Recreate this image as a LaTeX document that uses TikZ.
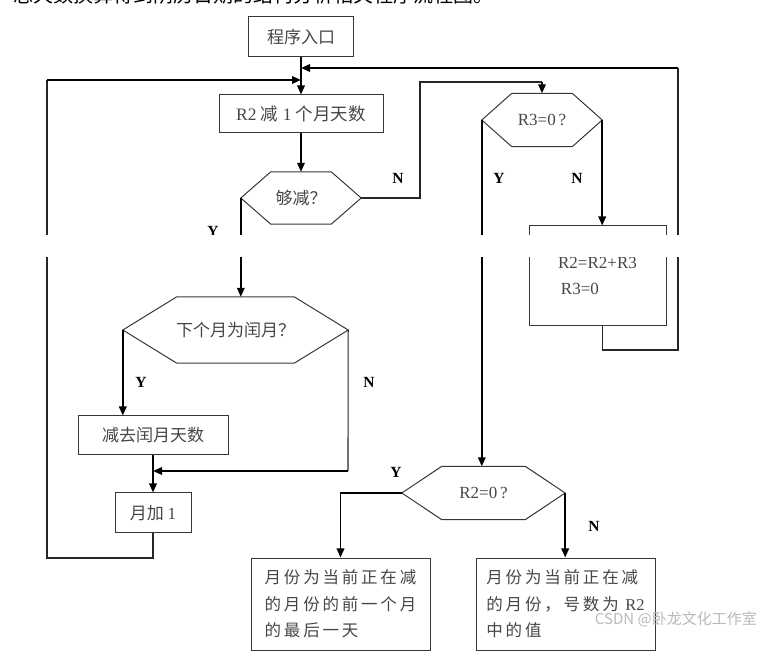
\documentclass[tikz,border=0pt]{standalone}
\usepackage{fontspec}
\setmainfont{Liberation Serif}
\newfontfamily\cjk{Noto Sans CJK SC}
\newfontfamily\cjkwide[LetterSpace=17]{Noto Sans CJK SC}
\usetikzlibrary{arrows.meta}

% outline of a decision node, #2 = how far the points stick out
\newcommand{\hexline}[2]{%
  \draw[boxline] (#1.west) -- ([xshift=#2]#1.north west) -- ([xshift=-#2]#1.north east)
    -- (#1.east) -- ([xshift=-#2]#1.south east) -- ([xshift=#2]#1.south west) -- cycle;}

\begin{document}
\begin{tikzpicture}[x=1pt, y=-1pt,
    boxline/.style={draw=boxgray, line width=1pt},
    box/.style={
            draw=boxgray,
            line width=1pt,
            inner sep=0pt,
            text=textgray,
            font={\cjk\fontsize{17}{20}\selectfont}
          },
    dec/.style={inner sep=0pt, text=textgray, font={\cjk\fontsize{17}{20}\selectfont}},
    flow/.style={line width=1.8pt, -{Triangle[length=9pt,width=7.5pt]}},
    loop/.style={line width=1.1pt, draw=black!85},
    yn/.style={font=\fontsize{15.5}{18}\selectfont\bfseries}]
        % Define colors
        \definecolor{boxgray}{RGB}{55, 55, 55}
        \definecolor{textgray}{RGB}{70, 70, 70}
        \definecolor{markgray}{RGB}{185, 185, 185}

    \useasboundingbox (0,0) rectangle (764,660);
    \clip (0,0) rectangle (764,660);

    % heading, cut at the top edge
    \node[anchor=base west, inner sep=0pt, font={\cjk\fontsize{20}{24}\selectfont}] (head) at (13,3) {总天数换算得到阴历日期的结构分析相关程序流程图。};

    % left column
    \node[box, minimum width=105, minimum height=40] (entry) at (301,37) {程序入口};
    \node[box, minimum width=164, minimum height=38, font=\fontsize{17.5}{20}\selectfont] (sub) at (301,114) {R2 {\cjk 减} 1 {\cjk 个月天数}};
    \node[dec, minimum width=120, minimum height=52] (enough) at (301,198) {够减？};
    \hexline{enough}{30}
    \node[dec, minimum width=225, minimum height=66] (leap) at (235.5,330) {下个月为闰月？};
    \hexline{leap}{54}
    \node[box, minimum width=150, minimum height=39] (minus) at (153,435.5) {减去闰月天数};
    \node[box, minimum width=76, minimum height=40] (inc) at (153,513) {月加 {\rmfamily 1}};

    % right column
    \node[dec, minimum width=120, minimum height=53, font=\fontsize{17}{20}\selectfont] (rthree) at (542,120) {R3=0\,?};
    \hexline{rthree}{30}
    \node[box, minimum width=137, minimum height=100, align=left, font=\fontsize{17}{26}\selectfont] (upd) at (597.5,276) {R2=R2+R3\\\,R3=0};
    \node[dec, minimum width=163, minimum height=53, font=\fontsize{17}{20}\selectfont] (rtwo) at (483.5,493) {R2=0\,?};
    \hexline{rtwo}{40}
    \node[box, minimum width=179, minimum height=92, align=left, font={\cjkwide\fontsize{16.5}{26.5}\selectfont}] (resA) at (340.5,604) {月份为当前正在减\\的月份的前一个月\\的最后一天};
    \node[box, minimum width=179, minimum height=92, align=left, font={\cjkwide\fontsize{16.5}{26.5}\selectfont}] (resB) at (565.5,604) {月份为当前正在减\\的月份，号数为 {\rmfamily R2}\\中的值};

    % free ends of the routed lines
    \coordinate (rbot) at (678,350);
    \coordinate (rtop) at (678,68);
    \coordinate (lbot) at (47,558);
    \coordinate (ltop) at (47,80);
    \coordinate (nup) at (420,82);
    \coordinate (njoin) at (348,471);

    \draw[flow] (entry) -- (sub);
    \draw[flow] (sub) -- (enough);

    % back to the top, from the right
    \draw[loop] (upd.south -| rthree.east) |- (rbot) -- (rtop);
    \draw[flow] (rtop) -- (entry.south |- rtop);
    % back to the top, from the left
    \draw[loop] (inc.south) |- (lbot) -- (ltop);
    \draw[flow] (ltop) -- (entry.south |- ltop);

    \draw[loop] (enough.east) -| (nup) -- (nup -| rthree.north);
    \draw[flow] (nup -| rthree.north) -- (rthree.north);
    \node[yn] (nA) at (398,178) {N};
    \draw[flow] (enough.west) -- (enough.west |- leap.north);
    \node[yn] (yA) at (213,231) {Y};

    \draw[flow] (leap.west) -- (leap.west |- minus.north);
    \node[yn] (yB) at (141,382) {Y};
    \draw[loop] (leap.east) -- (njoin);
    \draw[flow] (njoin) -- (minus.south |- njoin);
    \node[yn] (nB) at (369,382) {N};
    \draw[flow] (minus) -- (inc);

    \draw[flow] (rthree.west) -- (rthree.west |- rtwo.north);
    \node[yn] (yC) at (499,178) {Y};
    \draw[flow] (rthree.east) -- (rthree.east |- upd.north);
    \node[yn] (nC) at (577,178) {N};

    \draw[flow] (rtwo.west) -| (resA.north);
    \node[yn] (yD) at (396,472) {Y};
    \draw[flow] (rtwo.east) -- (rtwo.east |- resB.north);
    \node[yn] (nD) at (594,526) {N};

    % blank band across the scan
    \fill[white] (0,235) rectangle (764,257);

    \node[anchor=east, inner sep=0pt, text=markgray, font={\cjk\fontsize{15}{18}\selectfont}] (mark) at (757,619) {CSDN @卧龙文化工作室};

    \end{tikzpicture}
\end{document}
